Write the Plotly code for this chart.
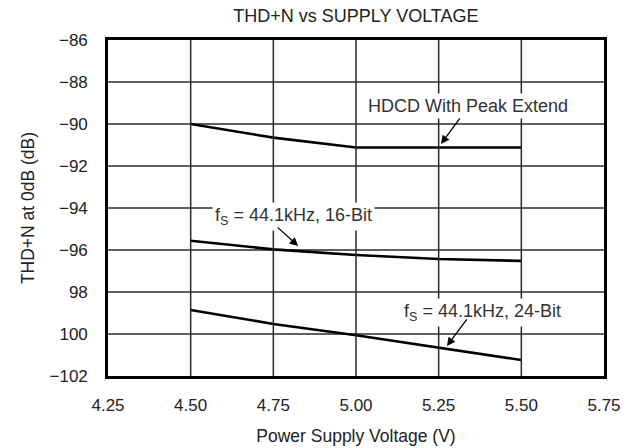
import plotly.graph_objects as go

# ---- data ----
voltage = [4.50, 4.75, 5.00, 5.25, 5.50]
hdcd_peak_extend = [-90.0, -90.65, -91.12, -91.12, -91.12]
fs441_16bit = [-95.56, -95.97, -96.24, -96.43, -96.52]
fs441_24bit = [-98.86, -99.52, -100.06, -100.64, -101.24]

x_ticks = [4.25, 4.50, 4.75, 5.00, 5.25, 5.50, 5.75]
x_tick_labels = ["4.25", "4.50", "4.75", "5.00", "5.25", "5.50", "5.75"]
y_ticks = [-86, -88, -90, -92, -94, -96, -98, -100, -102]
y_tick_labels = ["\u221286", "\u221288", "\u221290", "\u221292", "\u221294",
                 "\u221296", "98", "100", "\u2212102"]

FONT = "Liberation Sans, Arial, Helvetica, sans-serif"
FS = 17
GRID = "#2a2a2a"

fig = go.Figure()

# horizontal grid lines as thin line traces spanning the x range (tick values)
for yv in y_ticks[1:-1]:
    fig.add_trace(go.Scatter(x=[x_ticks[0], x_ticks[-1]], y=[yv, yv],
                             mode="lines", line=dict(color=GRID, width=1.3),
                             showlegend=False, hoverinfo="skip"))

for ys in (hdcd_peak_extend, fs441_16bit, fs441_24bit):
    fig.add_trace(go.Scatter(x=voltage, y=ys, mode="lines",
                             line=dict(color="black", width=2.6),
                             showlegend=False, hoverinfo="skip"))

# vertical grid lines at the x tick values
for xv in x_ticks[1:-1]:
    fig.add_shape(type="line", xref="x", yref="paper", x0=xv, x1=xv, y0=0, y1=1,
                  line=dict(color=GRID, width=1.5), layer="above")

# labels (text with white box) and separate arrows
labels = [
    dict(text="HDCD With Peak Extend", x=5.339, y=-89.12),
    dict(text="f<sub>S</sub> = 44.1kHz, 16-Bit", x=4.81, y=-94.40),
    dict(text="f<sub>S</sub> = 44.1kHz, 24-Bit", x=5.384, y=-98.97),
]
for lab in labels:
    fig.add_annotation(x=lab["x"], y=lab["y"], xref="x", yref="y",
                       text=lab["text"], showarrow=False,
                       bgcolor="white", borderpad=2,
                       font=dict(family=FONT, size=18, color="#333333"))

arrows = [
    dict(x=5.257, y=-90.95, ax=20, ay=-27),
    dict(x=4.825, y=-95.81, ax=-22, ay=-20),
    dict(x=5.275, y=-100.57, ax=21, ay=-28),
]
for a in arrows:
    fig.add_annotation(x=a["x"], y=a["y"], xref="x", yref="y",
                       ax=a["ax"], ay=a["ay"], text="", showarrow=True,
                       arrowhead=2, arrowsize=1.3, arrowwidth=1.3,
                       arrowcolor="black", standoff=0)

fig.update_layout(
    width=639, height=448,
    margin=dict(l=108, r=35, t=40, b=72, autoexpand=False),
    paper_bgcolor="white", plot_bgcolor="white",
    font=dict(family=FONT, size=FS, color="#222222"),
    title=dict(text="THD+N vs SUPPLY VOLTAGE", x=0.557, xanchor="center",
               y=1 - 16 / 448, yanchor="middle",
               font=dict(family=FONT, size=18, color="#222222")),
)
fig.update_xaxes(range=[4.25, 5.75], tickmode="array",
                 tickvals=x_ticks, ticktext=x_tick_labels,
                 showgrid=False,
                 showline=True, linecolor="black", linewidth=2.6, mirror=True,
                 ticks="outside", ticklen=12, tickcolor="rgba(0,0,0,0)",
                 zeroline=False, automargin=False,
                 title=dict(text="Power Supply Voltage (V)", standoff=16,
                            font=dict(family=FONT, size=17.5, color="#222222")))
fig.update_yaxes(range=[-102, -86], tickmode="array",
                 tickvals=y_ticks, ticktext=y_tick_labels,
                 showgrid=False,
                 showline=True, linecolor="black", linewidth=2.6, mirror=True,
                 ticks="outside", ticklen=14, tickcolor="rgba(0,0,0,0)",
                 zeroline=False, automargin=False,
                 title=dict(text="THD+N at 0dB (dB)", standoff=11,
                            font=dict(family=FONT, size=17.5, color="#222222")))

fig.write_html("out.html",
               config={"displayModeBar": False},
               post_script="document.body.style.margin='0px';"
                           "document.body.style.padding='0px';")
